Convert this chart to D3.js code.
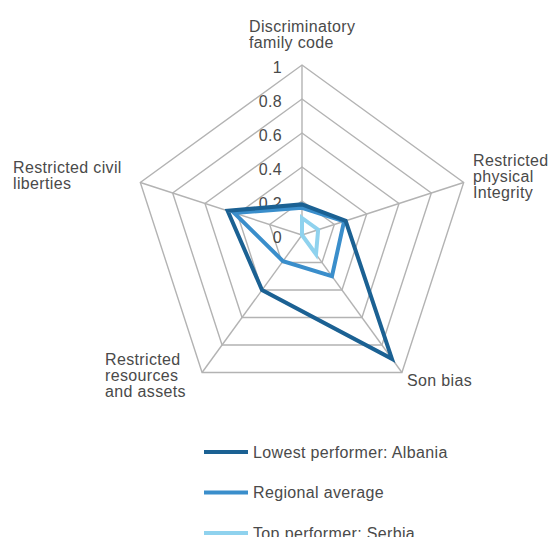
<!DOCTYPE html>
<html><head><meta charset="utf-8">
<script src="https://cdn.jsdelivr.net/npm/d3@7"></script>
<style>body{margin:0;background:#fff}svg{display:block}text{font-family:"Liberation Sans",Arial,sans-serif;fill:#4a4a4a;letter-spacing:0.35px}</style>
</head><body><svg id="c" width="552" height="537"></svg>
<script>
const axes = [["Discriminatory","family code"],["Restricted","physical","Integrity"],["Son bias"],["Restricted","resources","and assets"],["Restricted civil","liberties"]];
const ticks = [0,0.2,0.4,0.6,0.8,1];
const tickLabels = ["0","0.2","0.4","0.6","0.8","1"];
const seriesNames = ["Lowest performer: Albania","Regional average","Top performer: Serbia"];
const albania = [0.18,0.27,0.9,0.4,0.46];
const regional = [0.16,0.26,0.3,0.19,0.42];
const serbia = [0.1,0.1,0.14,0,0];
const colors = ["#1b6193","#3a8ecb","#8fd2ee"];

const svg = d3.select("#c");
const cx = 302, cy = 235, R = 170;
const r = d3.scaleLinear().domain([0,1]).range([0,R]);
const ang = d3.scaleLinear().domain([0,axes.length]).range([0,2*Math.PI]);
const g = svg.append("g").attr("transform",`translate(${cx},${cy})`);
const pt = (i,v)=>[Math.sin(ang(i))*r(v), -Math.cos(ang(i))*r(v)];

const ring = d3.lineRadial().angle((d,i)=>ang(i)).radius(d=>r(d)).curve(d3.curveLinearClosed);
ticks.filter(t=>t>0).forEach(t=>{
  g.append("path").attr("d",ring(axes.map(()=>t))).attr("fill","none").attr("stroke","#b3b3b3").attr("stroke-width",1.4);
});
axes.forEach((a,i)=>{
  const p = pt(i,1);
  g.append("line").attr("x1",0).attr("y1",0).attr("x2",p[0]).attr("y2",p[1]).attr("stroke","#b3b3b3").attr("stroke-width",1.4);
});
ticks.forEach((t,i)=>{
  g.append("text").attr("x",-20).attr("y",-r(t)+8).attr("text-anchor","end").attr("font-size",16).text(tickLabels[i]);
});
const data = [albania, regional, serbia];
[2,1,0].forEach(k=>{
  g.append("path").attr("d",ring(data[k])).attr("fill","none").attr("stroke",colors[k]).attr("stroke-width",4).attr("stroke-linejoin","miter");
});
const labelPos = [[249,32],[473,166],[407,386],[105,365],[13,173]];
axes.forEach((a,i)=>{
  const t = svg.append("text").attr("x",labelPos[i][0]).attr("y",labelPos[i][1]).attr("font-size",16);
  a.forEach((line,j)=>t.append("tspan").attr("x",labelPos[i][0]).attr("dy",j?16:0).text(line));
});
const leg = svg.append("g");
seriesNames.forEach((n,i)=>{
  const y = 452 + i*40.5;
  leg.append("line").attr("x1",204).attr("x2",248).attr("y1",y).attr("y2",y).attr("stroke",colors[i]).attr("stroke-width",4);
  leg.append("text").attr("x",253).attr("y",y+5.5).attr("font-size",16).text(n);
});
</script></body></html>
